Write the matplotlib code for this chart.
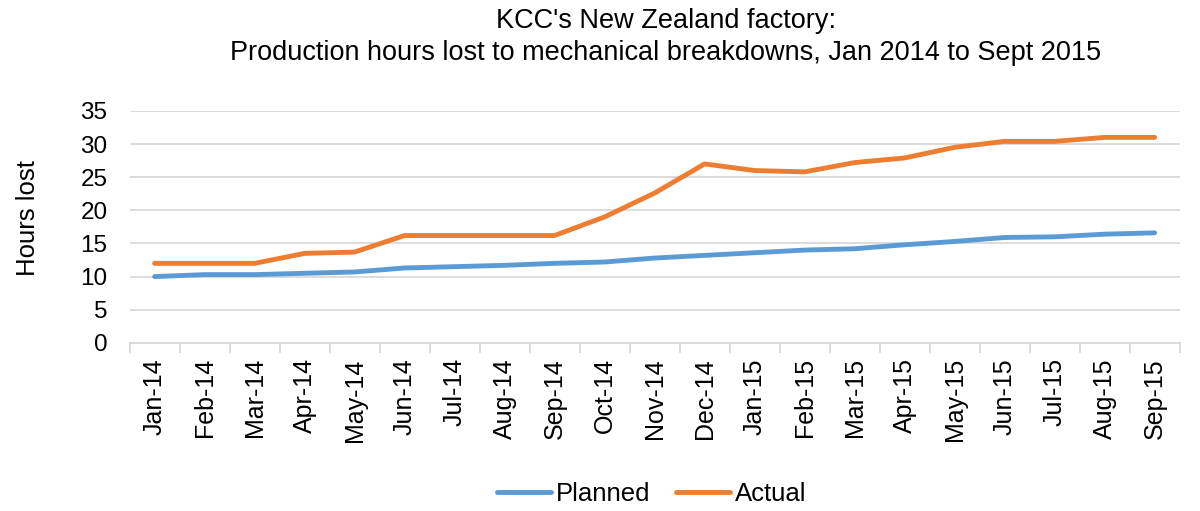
import matplotlib
matplotlib.use("Agg")
import matplotlib.pyplot as plt
import numpy as np

months = ["Jan-14", "Feb-14", "Mar-14", "Apr-14", "May-14", "Jun-14", "Jul-14",
          "Aug-14", "Sep-14", "Oct-14", "Nov-14", "Dec-14", "Jan-15", "Feb-15",
          "Mar-15", "Apr-15", "May-15", "Jun-15", "Jul-15", "Aug-15", "Sep-15"]
planned = [10.0, 10.3, 10.3, 10.5, 10.7, 11.3, 11.5, 11.7, 12.0, 12.2, 12.8,
           13.2, 13.6, 14.0, 14.2, 14.8, 15.3, 15.9, 16.0, 16.4, 16.6]
actual = [12.0, 12.0, 12.0, 13.5, 13.7, 16.2, 16.2, 16.2, 16.2, 19.0, 22.6,
          27.0, 26.0, 25.8, 27.2, 27.9, 29.5, 30.4, 30.4, 31.0, 31.0]
yticks = [0, 5, 10, 15, 20, 25, 30, 35]

plt.rcParams['font.family'] = ['Liberation Sans', 'DejaVu Sans']

fig = plt.figure(figsize=(12, 5.11), dpi=100)
ax = fig.add_axes([0.108, 0.329, 0.875, 0.454])

x = np.arange(len(months))
ax.plot(x, planned, color="#5b9bd5", lw=3.5, solid_capstyle="round", label="Planned")
ax.plot(x, actual, color="#ed7d31", lw=3.5, solid_capstyle="round", label="Actual")

ax.set_xlim(-0.5, len(months) - 0.5)
ax.set_ylim(0, 35)
ax.set_yticks(yticks)
ax.set_yticklabels([str(v) for v in yticks], fontsize=17.5)
ax.yaxis.grid(True, color="#d9d9d9", lw=1.3)
ax.set_axisbelow(True)
ax.tick_params(axis="y", length=0, pad=16)

ax.set_xticks(x)
ax.set_xticklabels(months, rotation=90, fontsize=18)
ax.tick_params(axis="x", which="major", length=0, pad=11)
ax.set_xticks(np.arange(-0.5, len(months), 1), minor=True)
ax.tick_params(axis="x", which="minor", length=7, color="#d9d9d9", width=1.3)

for s in ["top", "right", "left"]:
    ax.spines[s].set_visible(False)
ax.spines["bottom"].set_color("#d9d9d9")
ax.spines["bottom"].set_linewidth(1.3)

ax.set_ylabel("Hours lost", fontsize=18.5, labelpad=14)
ax.yaxis.set_label_coords(-0.0855, 0.54)

fig.suptitle("KCC's New Zealand factory:\nProduction hours lost to mechanical breakdowns, Jan 2014 to Sept 2015",
             fontsize=19.5, x=0.555, y=0.985, va="top", linespacing=1.3)

fig.legend(loc="lower center", bbox_to_anchor=(0.543, -0.035), ncol=2, frameon=False,
           fontsize=18.5, handlelength=2.1, handletextpad=0.2, columnspacing=1.0)

fig.savefig("out.png", dpi=100)
